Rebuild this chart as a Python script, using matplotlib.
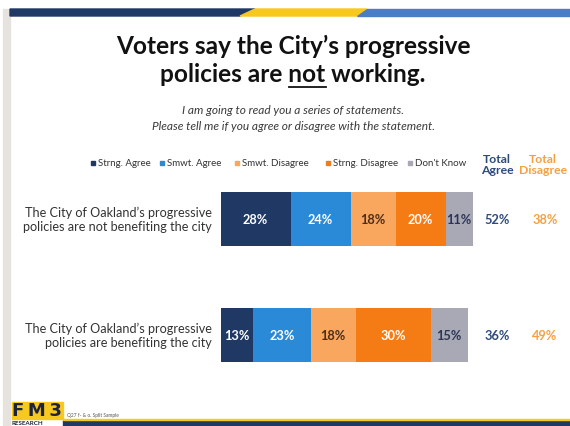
import matplotlib
matplotlib.use("Agg")
import matplotlib.pyplot as plt
from matplotlib.patches import Polygon, Rectangle
from matplotlib.transforms import blended_transform_factory
from matplotlib.font_manager import FontProperties

plt.rcParams['font.family'] = ['Lato', 'DejaVu Sans']

# ---------------- data ----------------
statements = ["The City of Oakland\u2019s progressive\npolicies are not benefiting the city",
              "The City of Oakland\u2019s progressive\npolicies are benefiting the city"]
categories = ["Strng. Agree", "Smwt. Agree", "Smwt. Disagree", "Strng. Disagree", "Don't Know"]
strong_agree = [28, 13]
smwt_agree = [24, 23]
smwt_disagree = [18, 18]
strong_disagree = [20, 30]
dont_know = [11, 15]
total_agree = [52, 36]
total_disagree = [38, 49]

colors = ["#1F3864", "#2A8AD8", "#F9A65E", "#F57C14", "#A9A9B6"]
label_colors = ["white", "white", "#4A2E1A", "white", "#2B3656"]

W, H = 570, 427
fig = plt.figure(figsize=(W / 100, H / 100), dpi=100)
fig.patch.set_facecolor("white")

def fx(px):
    return px / W

def fy(py):
    return 1 - py / H

# ---------- decorations ----------
fig.patches.append(Rectangle((fx(3), 0), fx(7), fy(10),
                             transform=fig.transFigure, color="#E6E2DE", zorder=0))
banner_top, banner_bot = 10, 17
fig.patches.append(Polygon([(fx(10), fy(banner_top)), (fx(255), fy(banner_top)),
                            (fx(240), fy(banner_bot)), (fx(10), fy(banner_bot))],
                           closed=True, transform=fig.transFigure, color="#1F3864"))
fig.patches.append(Polygon([(fx(255), fy(banner_top)), (fx(367), fy(banner_top)),
                            (fx(357), fy(banner_bot)), (fx(240), fy(banner_bot))],
                           closed=True, transform=fig.transFigure, color="#F7C81E"))
fig.patches.append(Polygon([(fx(367), fy(banner_top)), (fx(570), fy(banner_top)),
                            (fx(570), fy(banner_bot)), (fx(357), fy(banner_bot))],
                           closed=True, transform=fig.transFigure, color="#4A7DC4"))

# ---------- title ----------
title_fp = FontProperties(family=['Lato', 'DejaVu Sans'], weight='bold', size=17.6)
fig.text(fx(293), fy(46), "Voters say the City\u2019s progressive", fontproperties=title_fp,
         ha='center', va='center', color="#111111")
line2 = "policies are not working."
fig.text(fx(293), fy(74), line2, fontproperties=title_fp,
         ha='center', va='center', color="#111111")
renderer = fig.canvas.get_renderer()
def tw(s):
    w, h, d = renderer.get_text_width_height_descent(s, title_fp, ismath=False)
    return w
full_w = tw(line2)
start_px = 293 - full_w / 2 + (tw("policies are not") - tw("not"))
end_px = start_px + tw("not")
fig.lines.append(plt.Line2D([fx(start_px), fx(end_px)], [fy(88), fy(88)],
                            transform=fig.transFigure, color="#111111", lw=1.3))

fig.text(fx(293), fy(110), "I am going to read you a series of statements.",
         ha='center', va='center', fontsize=8.6, style='italic', color="#3A3A3A")
fig.text(fx(293), fy(126), "Please tell me if you agree or disagree with the statement.",
         ha='center', va='center', fontsize=8.6, style='italic', color="#3A3A3A")

# ---------- legend ----------
legend_x = [93, 162, 237, 328, 410]
for xpx, cat, col in zip(legend_x, categories, colors):
    fig.patches.append(Rectangle((fx(xpx - 2), fy(166)), fx(4), 4 / H,
                                 transform=fig.transFigure, color=col))
    fig.text(fx(xpx + 5), fy(164), cat, ha='left', va='center', fontsize=7, color="#333333")

fig.text(fx(497), fy(165), "Total\nAgree", ha='center', va='center', fontsize=8.8,
         fontweight='bold', color="#2E4A7D", linespacing=1.1)
fig.text(fx(543), fy(165), "Total\nDisagree", ha='center', va='center', fontsize=8.8,
         fontweight='bold', color="#F5A040", linespacing=1.1)

# ---------- bars ----------
px_per_pct = 2.5
ax_left = 220.5
ax = fig.add_axes([fx(ax_left), fy(394), 1 - fx(ax_left), (394 - 162) / H])
ax.set_xlim(0, (W - ax_left) / px_per_pct)
ax.set_ylim(1.5, -0.5)
ax.axis('off')

series = [strong_agree, smwt_agree, smwt_disagree, strong_disagree, dont_know]
ypos = list(range(len(statements)))
left = [0] * len(statements)
for vals, col, lc in zip(series, colors, label_colors):
    bars = ax.barh(ypos, vals, left=left, height=0.46, color=col, edgecolor='none')
    for b, v in zip(bars, vals):
        ax.text(b.get_x() + b.get_width() / 2, b.get_y() + b.get_height() / 2, f"{v}%",
                ha='center', va='center', fontsize=9.2, fontweight='bold', color=lc)
    left = [l + v for l, v in zip(left, vals)]

tr = blended_transform_factory(fig.transFigure, ax.transData)
for y, s, ta, td in zip(ypos, statements, total_agree, total_disagree):
    ax.text(fx(212), y, s, transform=tr, ha='right', va='center', fontsize=9.1,
            color="#333333", linespacing=1.2)
    ax.text(fx(497), y, f"{ta}%", transform=tr, ha='center', va='center', fontsize=9.2,
            fontweight='bold', color="#2E4A7D")
    ax.text(fx(545), y, f"{td}%", transform=tr, ha='center', va='center', fontsize=9.2,
            fontweight='bold', color="#F5A040")

# ---------- footer ----------
fig.patches.append(Rectangle((fx(12), fy(420)), fx(51), 17 / H,
                             transform=fig.transFigure, color="#F7C81E"))
fig.text(fx(37), fy(411.5), "F\u2009M\u20093", ha='center', va='center', fontsize=13,
         fontweight='bold', color="#1C2340", family=['DejaVu Sans'])
fig.text(fx(12), fy(423.5), "RESEARCH", ha='left', va='center', fontsize=4.5, fontweight='bold',
         color="#1C2340")
fig.patches.append(Rectangle((fx(63), 0), 1 - fx(63), 6 / H,
                             transform=fig.transFigure, color="#1F3864"))
fig.patches.append(Rectangle((fx(63), fy(421)), 1 - fx(63), 1.2 / H,
                             transform=fig.transFigure, color="#F7C81E"))
fig.text(fx(67), fy(416), "Q27 f- & o. Split Sample", ha='left', va='center', fontsize=3.5,
         color="#555555")

fig.savefig("out.png", dpi=100, facecolor="white")
